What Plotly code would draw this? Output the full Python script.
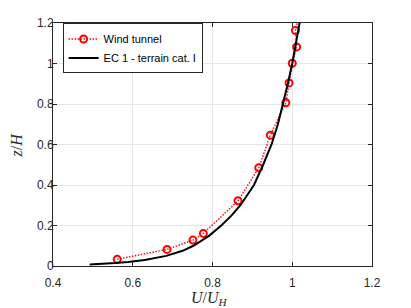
import plotly.graph_objects as go

# Wind tunnel measurements
wt_u = [0.561, 0.686, 0.751, 0.777, 0.864, 0.916, 0.945, 0.984, 0.992, 1.000, 1.011, 1.008, 1.020]
wt_z = [0.033, 0.082, 0.128, 0.161, 0.322, 0.485, 0.646, 0.806, 0.904, 1.001, 1.082, 1.163, 1.260]

# EC 1 - terrain category I profile
ec_z = [0.008, 0.01, 0.015, 0.02, 0.03, 0.05, 0.075, 0.1, 0.125, 0.15, 0.2, 0.25, 0.3,
        0.4, 0.5, 0.6, 0.7, 0.8, 0.9, 1.0, 1.1, 1.2, 1.25]
ec_u = [0.492, 0.515, 0.556, 0.588, 0.630, 0.684, 0.725, 0.752, 0.773, 0.792, 0.822, 0.848, 0.870,
        0.904, 0.927, 0.948, 0.964, 0.977, 0.989, 1.000, 1.010, 1.019, 1.023]

x_ticks = [0.4, 0.6, 0.8, 1.0, 1.2]
x_labels = ["0.4", "0.6", "0.8", "1", "1.2"]
y_ticks = [0, 0.2, 0.4, 0.6, 0.8, 1.0, 1.2]
y_labels = ["0", "0.2", "0.4", "0.6", "0.8", "1", "1.2"]

fig = go.Figure()
fig.add_trace(go.Scatter(
    x=wt_u, y=wt_z, mode="lines+markers", name="Wind tunnel",
    line=dict(color="#ff0000", width=1.4, dash="1.5px,1.5px"),
    marker=dict(symbol="circle-open", size=7, color="#ff0000", line=dict(width=2, color="#ff0000")),
))
fig.add_trace(go.Scatter(
    x=ec_u, y=ec_z, mode="lines", name="EC 1 - terrain cat. I",
    line=dict(color="#000000", width=2),
))

axis_common = dict(
    showgrid=True, gridcolor="#e6e6e6", gridwidth=1,
    showline=True, linecolor="#262626", linewidth=1, mirror="allticks",
    ticks="inside", ticklen=4, tickcolor="#262626",
    tickfont=dict(family="Liberation Sans, Arial, sans-serif", size=12, color="#262626"),
    zeroline=False, automargin=False,
)

title_font = dict(family="Liberation Serif, serif", size=16, color="#262626")

fig.update_layout(
    width=403, height=300,
    margin=dict(l=45, r=39, t=15, b=42),
    paper_bgcolor="white", plot_bgcolor="white",
    xaxis=dict(range=[0.4, 1.2], tickvals=x_ticks, ticktext=x_labels,
               ticklabelstandoff=6, **axis_common),
    yaxis=dict(range=[0, 1.2], tickvals=y_ticks, ticktext=y_labels,
               ticklabelstandoff=-4, **axis_common),
    legend=dict(x=0.03, y=0.998, xanchor="left", yanchor="top",
                bgcolor="white", bordercolor="#262626", borderwidth=1,
                font=dict(family="Liberation Sans, Arial, sans-serif", size=11, color="#000000"),
                tracegroupgap=0, itemwidth=30),
    showlegend=True,
    annotations=[
        dict(text="<i>U</i>/<i>U</i><sub><i>H</i></sub>", x=0.49, y=-0.085,
             xref="paper", yref="paper", xanchor="center", yanchor="top",
             showarrow=False, font=title_font),
        dict(text="<i>z</i>/<i>H</i>", x=-0.113, y=0.5, textangle=-90,
             xref="paper", yref="paper", xanchor="center", yanchor="middle",
             showarrow=False, font=title_font),
    ],
)

fig.write_html("out.html")
